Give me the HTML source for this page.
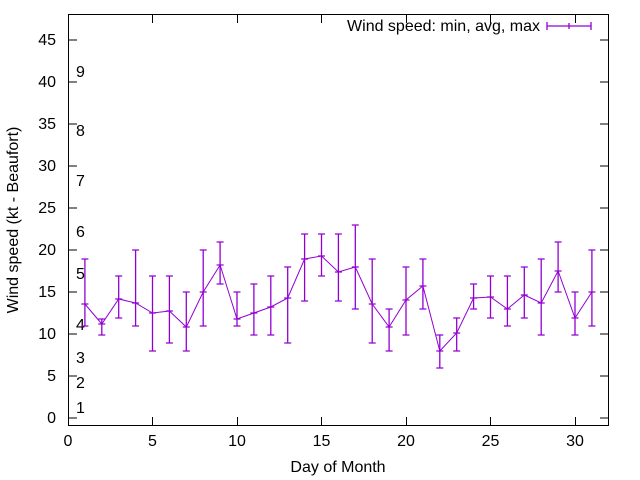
<!DOCTYPE html>
<html><head><style>body{margin:0;background:#fff}svg{display:block}text{font-family:"Liberation Sans",sans-serif;font-size:16px;fill:#000}</style></head>
<body>
<svg width="640" height="480" xmlns="http://www.w3.org/2000/svg">
<rect x="68.5" y="14.5" width="540" height="411" fill="none" stroke="#000" stroke-width="1"/>
<path stroke="#000" stroke-width="1" fill="none" d="M68 418h9M600 418h9M68 376h9M600 376h9M68 334h9M600 334h9M68 292h9M600 292h9M68 250h9M600 250h9M68 208h9M600 208h9M68 166h9M600 166h9M68 124h9M600 124h9M68 82h9M600 82h9M68 40h9M600 40h9
M68.5 426v-9M68.5 14v9M152.5 426v-9M152.5 14v9M237.5 426v-9M237.5 14v9M321.5 426v-9M321.5 14v9M406.5 426v-9M406.5 14v9M490.5 426v-9M490.5 14v9M575.5 426v-9M575.5 14v9"/>
<g text-anchor="end">
<text x="56" y="423">0</text><text x="56" y="381">5</text><text x="56" y="339">10</text><text x="56" y="297">15</text><text x="56" y="255">20</text><text x="56" y="213">25</text><text x="56" y="171">30</text><text x="56" y="129">35</text><text x="56" y="87">40</text><text x="56" y="45">45</text>
</g>
<g text-anchor="middle">
<text x="68" y="446">0</text><text x="152.5" y="446">5</text><text x="237" y="446">10</text><text x="321.5" y="446">15</text><text x="406" y="446">20</text><text x="490.5" y="446">25</text><text x="575" y="446">30</text>
</g>
<g>
<text x="76" y="413">1</text><text x="76" y="388">2</text><text x="76" y="363">3</text><text x="76" y="330">4</text><text x="76" y="279">5</text><text x="76" y="237">6</text><text x="76" y="186">7</text><text x="76" y="136">8</text><text x="76" y="77">9</text>
</g>
<path stroke="#9400d3" stroke-width="1" fill="none" d="M84.9 304L101.8 324L118.7 299L135.6 303L152.5 313L169.4 311L186.3 327L203.2 292L220.1 265L237 319L253.9 313L270.8 307L287.7 298L304.6 259L321.5 256L338.4 272L355.3 267L372.2 304L389.1 327L406 300L422.9 286L439.8 351L456.7 333L473.6 298L490.5 297L507.4 309L524.3 295L541.2 303L558.1 271L575 318L591.9 292"/>
<path stroke="#9400d3" stroke-width="1.3" fill="none" d="
M84.9 259V326M81.4 259h7M81.4 326h7M81.4 304h7
M101.8 319V335M98.3 319h7M98.3 335h7M98.3 324h7
M118.7 276V318M115.2 276h7M115.2 318h7M115.2 299h7
M135.6 250V326M132.1 250h7M132.1 326h7M132.1 303h7
M152.5 276V351M149 276h7M149 351h7M149 313h7
M169.4 276V343M165.9 276h7M165.9 343h7M165.9 311h7
M186.3 292V351M182.8 292h7M182.8 351h7M182.8 327h7
M203.2 250V326M199.7 250h7M199.7 326h7M199.7 292h7
M220.1 242V284M216.6 242h7M216.6 284h7M216.6 265h7
M237 292V326M233.5 292h7M233.5 326h7M233.5 319h7
M253.9 284V335M250.4 284h7M250.4 335h7M250.4 313h7
M270.8 276V335M267.3 276h7M267.3 335h7M267.3 307h7
M287.7 267V343M284.2 267h7M284.2 343h7M284.2 298h7
M304.6 234V301M301.1 234h7M301.1 301h7M301.1 259h7
M321.5 234V276M318 234h7M318 276h7M318 256h7
M338.4 234V301M334.9 234h7M334.9 301h7M334.9 272h7
M355.3 225V309M351.8 225h7M351.8 309h7M351.8 267h7
M372.2 259V343M368.7 259h7M368.7 343h7M368.7 304h7
M389.1 309V351M385.6 309h7M385.6 351h7M385.6 327h7
M406 267V335M402.5 267h7M402.5 335h7M402.5 300h7
M422.9 259V309M419.4 259h7M419.4 309h7M419.4 286h7
M439.8 335V368M436.3 335h7M436.3 368h7M436.3 351h7
M456.7 318V351M453.2 318h7M453.2 351h7M453.2 333h7
M473.6 284V309M470.1 284h7M470.1 309h7M470.1 298h7
M490.5 276V318M487 276h7M487 318h7M487 297h7
M507.4 276V326M503.9 276h7M503.9 326h7M503.9 309h7
M524.3 267V318M520.8 267h7M520.8 318h7M520.8 295h7
M541.2 259V335M537.7 259h7M537.7 335h7M537.7 303h7
M558.1 242V292M554.6 242h7M554.6 292h7M554.6 271h7
M575 292V335M571.5 292h7M571.5 335h7M571.5 318h7
M591.9 250V326M588.4 250h7M588.4 326h7M588.4 292h7"/>
<text x="540" y="31" text-anchor="end">Wind speed: min, avg, max</text>
<path stroke="#9400d3" stroke-width="1.3" d="M547 26H591M547 22V30M591 22V30M569 23V29"/>
<text x="338" y="472" text-anchor="middle">Day of Month</text>
<text transform="translate(18,220) rotate(-90)" text-anchor="middle">Wind speed (kt - Beaufort)</text>
</svg>
</body></html>
